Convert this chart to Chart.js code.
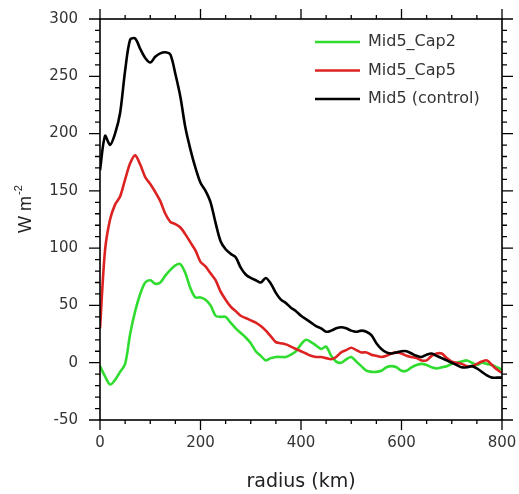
<!DOCTYPE html>
<html>
<head>
<meta charset="utf-8">
<script src="https://cdn.jsdelivr.net/npm/chart.js@4/dist/chart.umd.min.js"></script>
<style>
  html, body { margin: 0; padding: 0; background: #fff; }
  #wrap { width: 519px; height: 494px; position: relative; }
</style>
</head>
<body>
<div id="wrap"><canvas id="c" width="519" height="494"></canvas></div>
<script>
// radius (km)
const radius = [];
for (let r = 0; r <= 800; r += 10) radius.push(r);

const seriesNames = ['Mid5_Cap2', 'Mid5_Cap5', 'Mid5 (control)'];

const cap2 = [-3,-12,-19,-15,-8,-1,25,45,60,70,72,69,70,76,81,85,86,78,65,57,
  57,55,50,41,40,40,35,30,26,22,17,10,6,2,4,5,5,5,7,10,
  16,20,18,15,12,14,6,1,0,3,5,1,-3,-7,-8,-8,-7,-4,-3,-4,
  -7,-7,-4,-2,-1,-2,-4,-5,-4,-3,-1,0,1,2,0,-2,0,-1,-2,-4,-6];

const cap5 = [30,98,125,138,145,160,174,181,173,162,156,149,141,130,123,121,118,112,105,98,
  88,84,78,72,62,55,49,45,41,39,37,35,32,28,23,18,17,16,14,12,
  10,8,6,5,5,4,3,5,9,11,13,11,9,9,7,6,5,6,8,9,
  8,6,5,4,2,2,6,8,8,4,1,0,-1,-3,-3,-1,1,2,-2,-6,-9];

const control = [168,198,190,200,218,255,282,283,274,266,262,267,270,271,269,252,232,205,186,170,
  157,150,140,122,106,99,95,92,83,77,74,72,70,74,69,61,55,52,48,45,
  41,38,35,32,30,27,28,30,31,30,28,27,28,27,24,17,12,9,8,9,
  10,10,8,6,5,7,8,6,4,2,0,-2,-4,-4,-3,-5,-8,-11,-13,-13,-13];

const xTickLabels = [0, 200, 400, 600, 800];
const yTickLabels = [-50, 0, 50, 100, 150, 200, 250, 300];
const yTitle = 'W m';
const yTitleSup = '-2';
const xTitle = 'radius (km)';

const colors = ['#2fdc2f', '#dd2222', '#000000'];
const FONT = '"DejaVu Sans", "Liberation Sans", sans-serif';

function pts(vals) { return radius.map((r, i) => ({ x: r, y: vals[i] })); }

const frameTicks = {
  id: 'frameTicks',
  afterDraw(chart) {
    const { ctx, chartArea: a, scales: { x, y } } = chart;
    ctx.save();
    ctx.strokeStyle = '#000';
    ctx.lineWidth = 1.6;
    ctx.strokeRect(a.left, a.top, a.right - a.left, a.bottom - a.top);
    ctx.lineWidth = 1.3;
    ctx.beginPath();
    for (let v = x.min; v <= x.max; v += 50) {
      const px = x.getPixelForValue(v);
      const L = xTickLabels.includes(v) ? 10 : 4;
      ctx.moveTo(px, a.bottom); ctx.lineTo(px, a.bottom + L);
      ctx.moveTo(px, a.top); ctx.lineTo(px, a.top - L);
    }
    for (let v = y.min; v <= y.max; v += 10) {
      const py = y.getPixelForValue(v);
      const L = yTickLabels.includes(v) ? 11 : 5;
      ctx.moveTo(a.left, py); ctx.lineTo(a.left - L, py);
      ctx.moveTo(a.right, py); ctx.lineTo(a.right + L, py);
    }
    ctx.stroke();

    // legend inside plot
    ctx.font = '16px ' + FONT;
    ctx.textBaseline = 'middle';
    ctx.textAlign = 'left';
    chart.data.datasets.forEach((ds, i) => {
      const yy = 42 + i * 28.5;
      ctx.strokeStyle = ds.borderColor;
      ctx.lineWidth = 2.5;
      ctx.beginPath(); ctx.moveTo(315, yy); ctx.lineTo(360, yy); ctx.stroke();
      ctx.fillStyle = '#333';
      ctx.fillText(ds.label, 368, yy);
    });

    // y axis title with superscript
    ctx.translate(31, 209);
    ctx.rotate(-Math.PI / 2);
    ctx.fillStyle = '#222';
    ctx.textBaseline = 'alphabetic';
    ctx.font = '18px "Liberation Sans", Arial, sans-serif';
    const w1 = ctx.measureText(yTitle).width;
    ctx.font = '11px "Liberation Sans", Arial, sans-serif';
    const w2 = ctx.measureText(yTitleSup).width;
    const x0 = -(w1 + w2 + 1) / 2;
    ctx.font = '18px "Liberation Sans", Arial, sans-serif';
    ctx.fillText(yTitle, x0, 0);
    ctx.font = '11px "Liberation Sans", Arial, sans-serif';
    ctx.fillText(yTitleSup, x0 + w1 + 1, -9);
    ctx.restore();
  }
};

new Chart(document.getElementById('c'), {
  type: 'line',
  data: {
    datasets: [
      { label: seriesNames[0], data: pts(cap2), borderColor: colors[0], order: 3 },
      { label: seriesNames[1], data: pts(cap5), borderColor: colors[1], order: 2 },
      { label: seriesNames[2], data: pts(control), borderColor: colors[2], order: 1 }
    ]
  },
  options: {
    responsive: false,
    animation: false,
    devicePixelRatio: 1,
    layout: { padding: { top: 19, right: 17, left: 0, bottom: 0 } },
    elements: {
      point: { radius: 0 },
      line: { borderWidth: 2.6, tension: 0.3, fill: false }
    },
    plugins: { legend: { display: false }, tooltip: { enabled: false } },
    scales: {
      x: {
        type: 'linear', min: 0, max: 800,
        afterFit(s) { s.height = 74; s.paddingLeft = 0; s.paddingRight = 0; },
        grid: { display: false, drawTicks: false },
        border: { display: false },
        ticks: {
          stepSize: 200, padding: 14, color: '#333',
          font: { family: FONT, size: 15 }
        },
        title: {
          display: true, text: xTitle, color: '#222',
          font: { family: FONT, size: 19 },
          padding: { top: 0, bottom: 1 }
        }
      },
      y: {
        type: 'linear', min: -50, max: 300,
        afterFit(s) { s.width = 100; s.paddingTop = 0; s.paddingBottom = 0; },
        grid: { display: false, drawTicks: false },
        border: { display: false },
        ticks: {
          stepSize: 50, padding: 22, color: '#333',
          font: { family: FONT, size: 15 }
        },
        title: { display: false }
      }
    }
  },
  plugins: [frameTicks]
});
</script>
</body>
</html>
